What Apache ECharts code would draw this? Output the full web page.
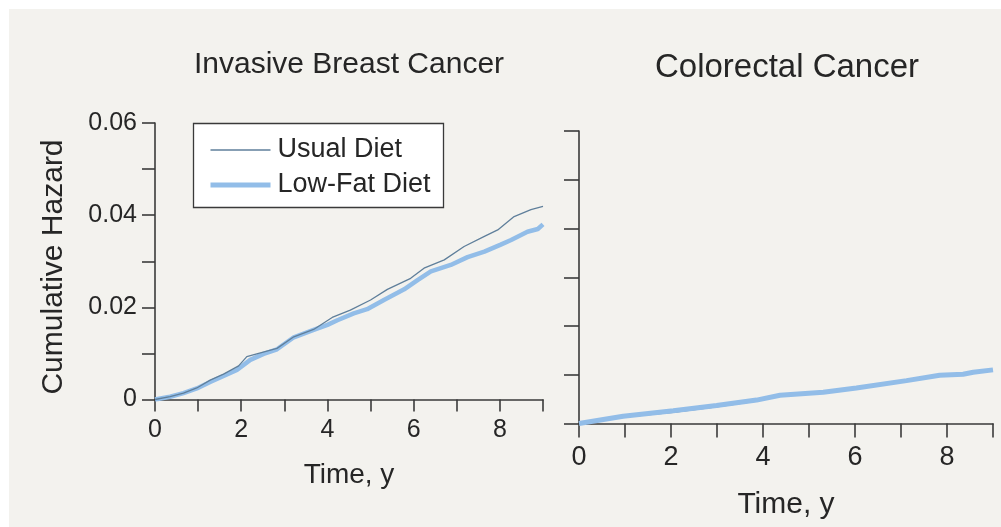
<!DOCTYPE html>
<html>
<head>
<meta charset="utf-8">
<script src="https://cdn.jsdelivr.net/npm/echarts@6/dist/echarts.min.js"></script>
<style>
  html, body { margin: 0; padding: 0; background: #ffffff; }
  #chart { width: 1001px; height: 527px; }
</style>
</head>
<body>
<div id="chart"></div>
<script>
// Panel titles and legend entries
const panelTitles = ['Invasive Breast Cancer', 'Colorectal Cancer'];
const seriesNames = ['Usual Diet', 'Low-Fat Diet'];

// Invasive breast cancer: follow-up time (years) and cumulative hazard
const breastUsualTime = [0, 0.35, 0.66, 0.97, 1.28, 1.59, 1.94, 2.13, 2.36, 2.83, 3.22, 3.68, 4.11, 4.53, 5.0, 5.39, 5.93, 6.24, 6.71, 7.17, 7.64, 7.95, 8.33, 8.72, 9.0];
const breastUsualHazard = [0, 0.0006, 0.0014, 0.0025, 0.0042, 0.0055, 0.0073, 0.0093, 0.0099, 0.0111, 0.0136, 0.0152, 0.0178, 0.0194, 0.0216, 0.0239, 0.0263, 0.0285, 0.0303, 0.0332, 0.0354, 0.0368, 0.0397, 0.0412, 0.0419];
const breastLowFatTime = [0, 0.35, 0.66, 0.97, 1.28, 1.59, 1.9, 2.21, 2.52, 2.83, 3.22, 3.68, 4.0, 4.23, 4.61, 4.92, 5.31, 5.78, 6.09, 6.4, 6.86, 7.25, 7.64, 8.02, 8.26, 8.64, 8.88, 9.0];
const breastLowFatHazard = [0, 0.0006, 0.0014, 0.0024, 0.0038, 0.0051, 0.0064, 0.0086, 0.0099, 0.0109, 0.0135, 0.0151, 0.0162, 0.0172, 0.0187, 0.0196, 0.0216, 0.0239, 0.0259, 0.0278, 0.0292, 0.0309, 0.0321, 0.0336, 0.0346, 0.0364, 0.0370, 0.0380];

// Colorectal cancer: follow-up time (years) and cumulative hazard
const colonTime = [0, 0.96, 2.05, 2.99, 3.86, 4.37, 5.31, 6.03, 7.12, 7.84, 8.35, 8.57, 9.0];
const colonUsualHazard = [0, 0.0013, 0.0023, 0.0034, 0.0046, 0.0056, 0.0063, 0.0072, 0.0087, 0.0097, 0.0100, 0.0104, 0.0109];
const colonLowFatHazard = [0, 0.0015, 0.0026, 0.0037, 0.0048, 0.0058, 0.0064, 0.0073, 0.0088, 0.0099, 0.0101, 0.0105, 0.0110];

// Axis ranges and tick steps
const timeMax = 9;
const timeStep = 1;
const hazardMax = 0.06;
const hazardStep = 0.01;
const axisTitleX = 'Time, y';
const axisTitleY = 'Cumulative Hazard';

const pairs = (xs, ys) => xs.map((x, i) => [x, ys[i]]);

const FONT = '"Liberation Sans", Arial, Helvetica, sans-serif';
const INK = '#262626';
const AXIS = '#3a3a3a';
const USUAL_COLOR = '#5f7f9b';
const LOWFAT_COLOR = '#92bde8';
const USUAL_WIDTH = 1.3;
const LOWFAT_WIDTH = 4.5;

function timeAxis(gridIndex, tickLen, labelMargin, fontSize) {
  return {
    type: 'value', gridIndex, min: 0, max: timeMax, interval: timeStep,
    axisLine: { show: true, lineStyle: { color: AXIS, width: 1.6 } },
    axisTick: { show: true, length: tickLen, lineStyle: { color: AXIS, width: 1.6 } },
    axisLabel: {
      margin: labelMargin, fontSize, color: INK, fontFamily: FONT,
      formatter: v => (Math.round(v) % 2 === 0 ? String(Math.round(v)) : '')
    },
    splitLine: { show: false }
  };
}

function hazardAxis(gridIndex, tickLen, showLabels) {
  return {
    type: 'value', gridIndex, min: 0, max: hazardMax, interval: hazardStep,
    axisLine: { show: true, lineStyle: { color: AXIS, width: 1.6 } },
    axisTick: { show: true, length: tickLen, lineStyle: { color: AXIS, width: 1.6 } },
    axisLabel: {
      show: showLabels, margin: 18, fontSize: 25, color: INK, fontFamily: FONT,
      formatter: v => {
        const r = Math.round(v * 100);
        if (r % 2 !== 0) return '';
        return r === 0 ? '0' : (r / 100).toFixed(2);
      }
    },
    splitLine: { show: false }
  };
}

const chart = echarts.init(document.getElementById('chart'), null, { renderer: 'canvas' });

chart.setOption({
  animation: false,
  backgroundColor: 'transparent',
  textStyle: { fontFamily: FONT },
  grid: [
    { left: 155, right: 1001 - 543, top: 123, bottom: 527 - 399.5 },
    { left: 579, right: 1001 - 993, top: 131, bottom: 527 - 423.5 }
  ],
  xAxis: [timeAxis(0, 12, 18, 25), timeAxis(1, 14, 21, 27)],
  yAxis: [hazardAxis(0, 13, true), hazardAxis(1, 15, false)],
  legend: {
    data: [
      { name: seriesNames[0], lineStyle: { width: 1.5, color: USUAL_COLOR } },
      { name: seriesNames[1], lineStyle: { width: 5, color: LOWFAT_COLOR } }
    ],
    orient: 'vertical',
    left: 208, top: 135, padding: 0,
    itemWidth: 60, itemHeight: 14, itemGap: 5,
    itemStyle: { opacity: 0 },
    textStyle: { fontSize: 27, color: INK, fontFamily: FONT, lineHeight: 30, padding: [0, 0, 0, 2] },
    selectedMode: false,
    z: 10
  },
  graphic: [
    { type: 'rect', z: -100, silent: true, shape: { x: 9, y: 9, width: 1001, height: 527 }, style: { fill: '#f3f2ee' } },
    { type: 'rect', z: 5, silent: true, shape: { x: 193.5, y: 123.5, width: 250, height: 84 }, style: { fill: '#ffffff', stroke: '#3a3a3a', lineWidth: 1.3 } },
    { type: 'text', silent: true, x: 349, y: 65, style: { text: panelTitles[0], fontSize: 30, fill: INK, fontFamily: FONT, align: 'center', verticalAlign: 'middle' } },
    { type: 'text', silent: true, x: 787, y: 68, style: { text: panelTitles[1], fontSize: 33, fill: INK, fontFamily: FONT, align: 'center', verticalAlign: 'middle' } },
    { type: 'text', silent: true, x: 54, y: 267, rotation: Math.PI / 2, style: { text: axisTitleY, fontSize: 30, fill: INK, fontFamily: FONT, align: 'center', verticalAlign: 'middle' } },
    { type: 'text', silent: true, x: 349, y: 475, style: { text: axisTitleX, fontSize: 28, fill: INK, fontFamily: FONT, align: 'center', verticalAlign: 'middle' } },
    { type: 'text', silent: true, x: 786, y: 505, style: { text: axisTitleX, fontSize: 30, fill: INK, fontFamily: FONT, align: 'center', verticalAlign: 'middle' } }
  ],
  series: [
    {
      name: seriesNames[0], type: 'line', xAxisIndex: 0, yAxisIndex: 0,
      data: pairs(breastUsualTime, breastUsualHazard),
      symbol: 'none', color: USUAL_COLOR,
      lineStyle: { color: USUAL_COLOR, width: USUAL_WIDTH }, z: 3
    },
    {
      name: seriesNames[1], type: 'line', xAxisIndex: 0, yAxisIndex: 0,
      data: pairs(breastLowFatTime, breastLowFatHazard),
      symbol: 'none', color: LOWFAT_COLOR,
      lineStyle: { color: LOWFAT_COLOR, width: LOWFAT_WIDTH }, z: 2
    },
    {
      name: seriesNames[0], type: 'line', xAxisIndex: 1, yAxisIndex: 1,
      data: pairs(colonTime, colonUsualHazard),
      symbol: 'none', color: USUAL_COLOR,
      lineStyle: { color: USUAL_COLOR, width: USUAL_WIDTH }, z: 2
    },
    {
      name: seriesNames[1], type: 'line', xAxisIndex: 1, yAxisIndex: 1,
      data: pairs(colonTime, colonLowFatHazard),
      symbol: 'none', color: LOWFAT_COLOR,
      lineStyle: { color: LOWFAT_COLOR, width: 5 }, z: 3
    }
  ]
});
</script>
</body>
</html>
